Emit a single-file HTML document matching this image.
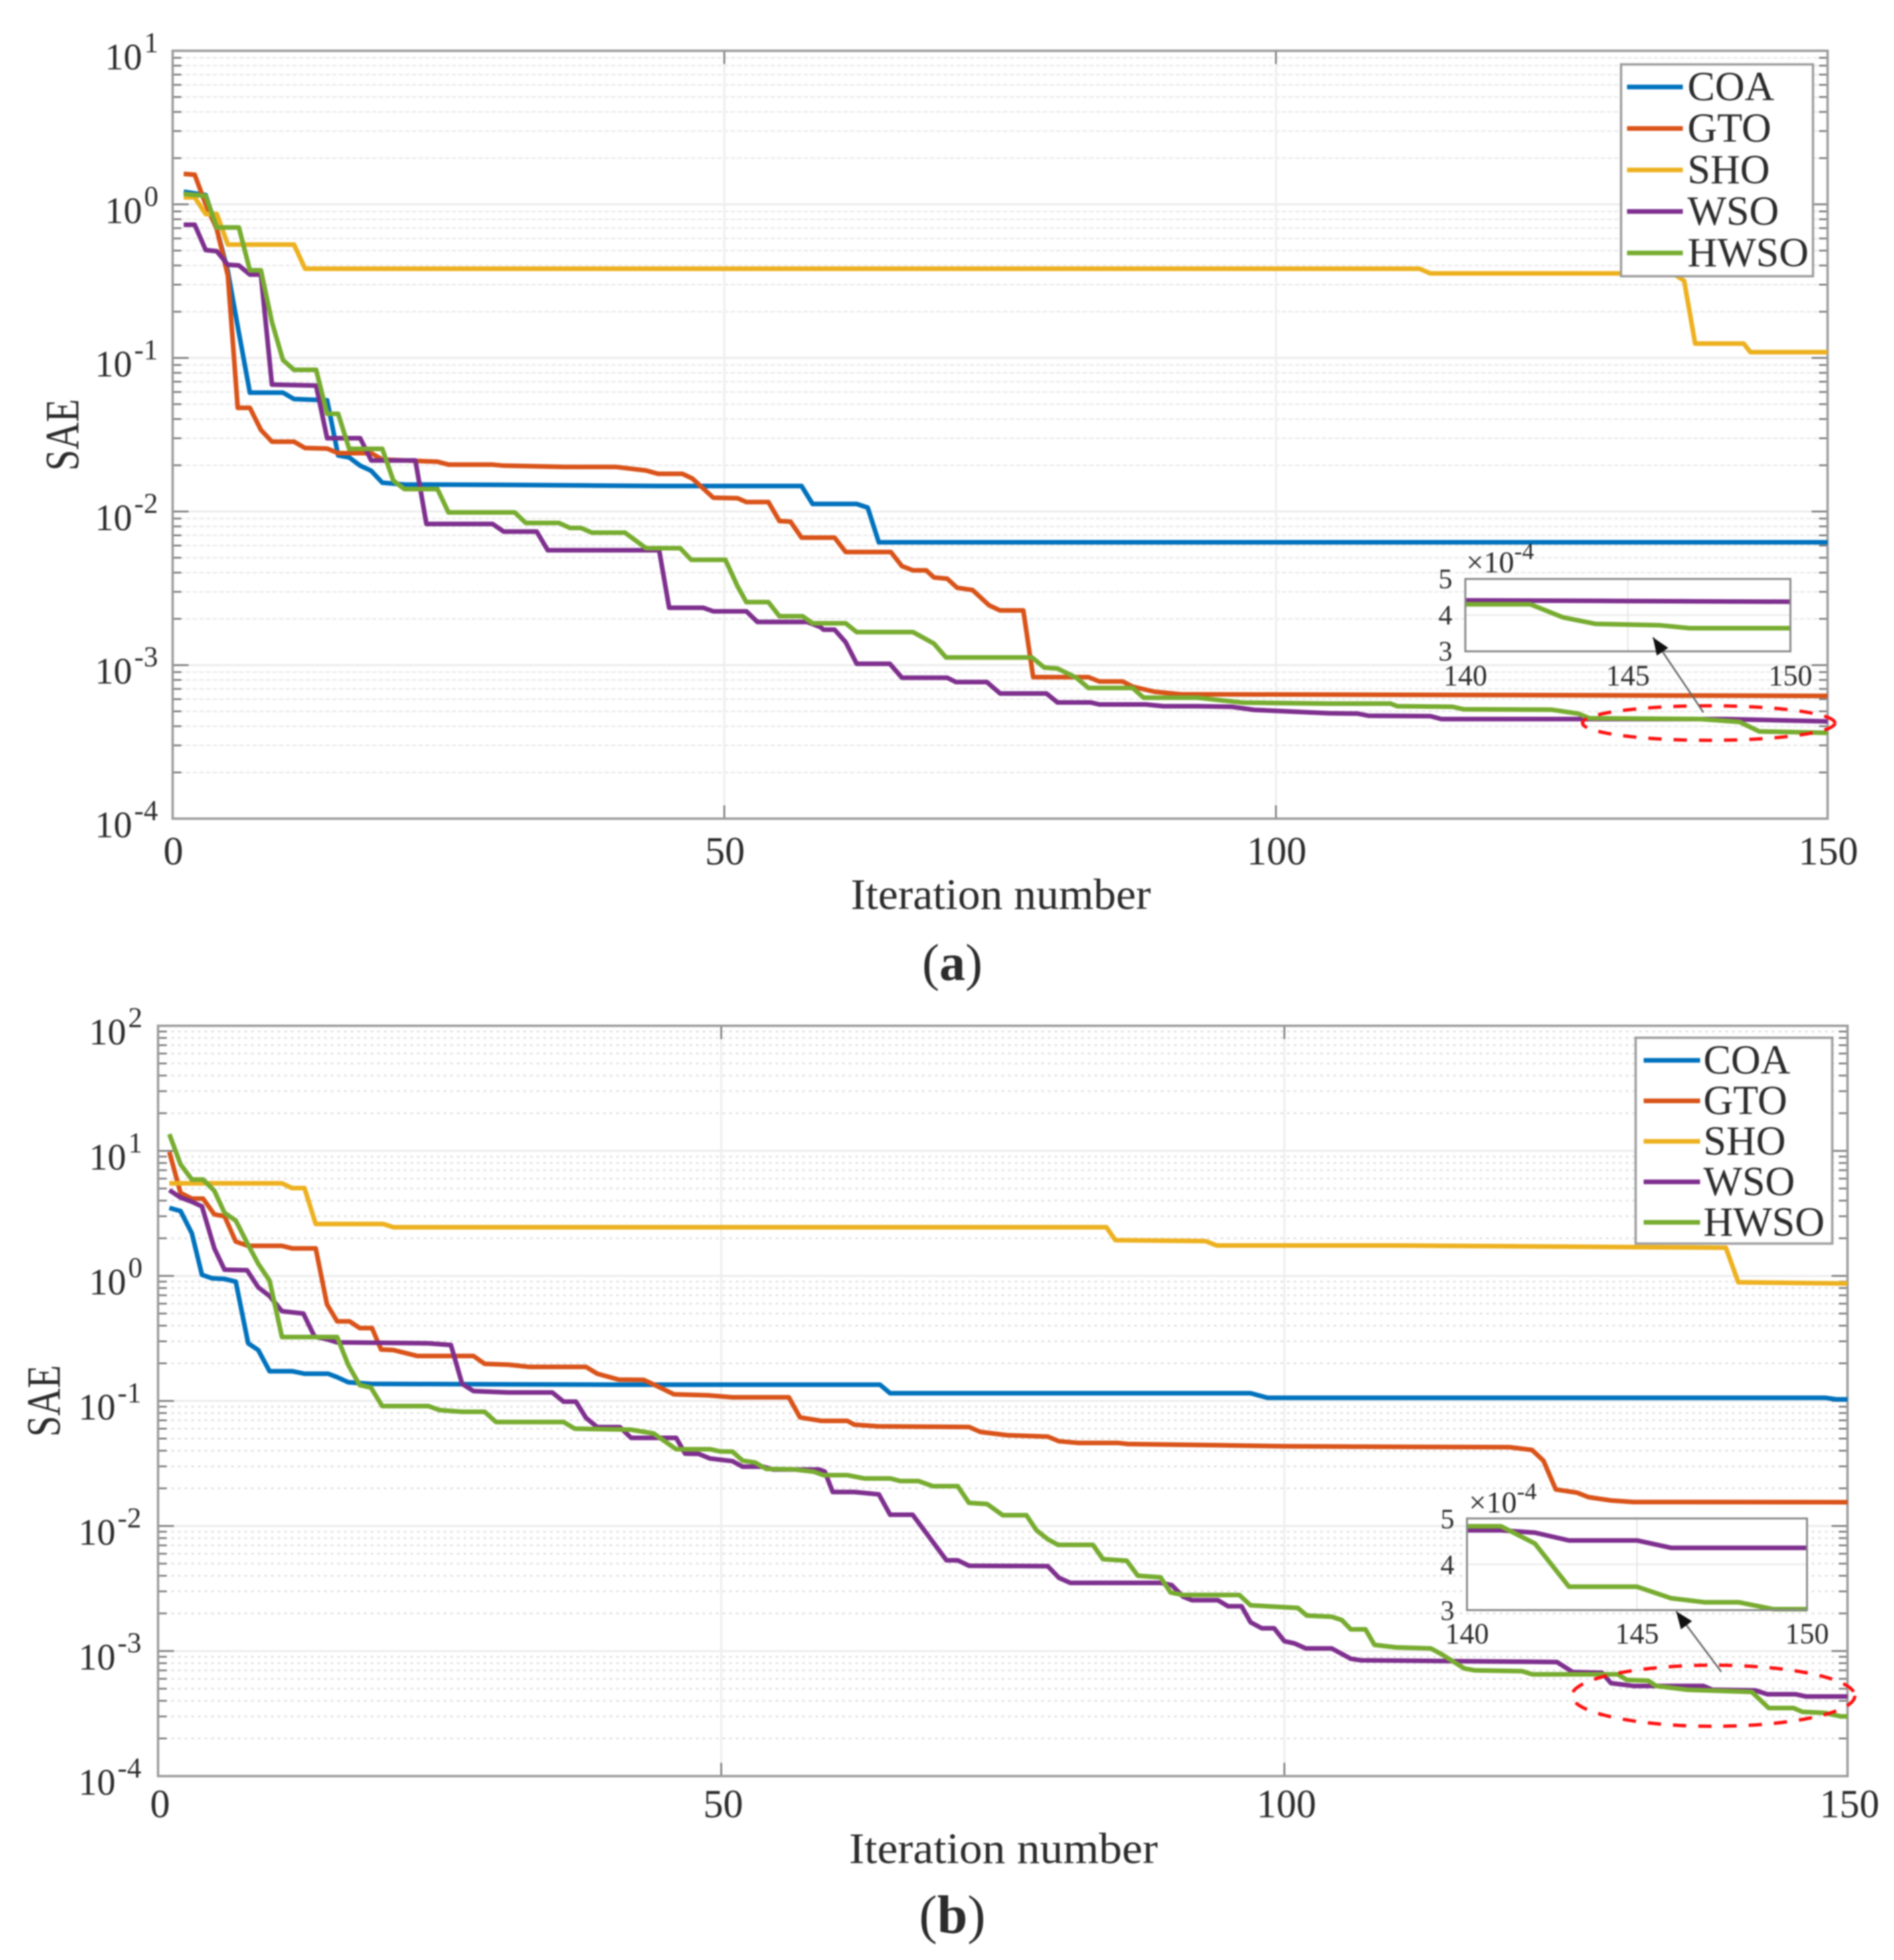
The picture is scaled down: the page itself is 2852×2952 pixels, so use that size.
<!DOCTYPE html>
<html lang="en">
<head>
<meta charset="utf-8">
<title>SAE convergence curves</title>
<style>
html,body{margin:0;padding:0;background:#fff;}
svg{display:block;filter:blur(1.1px);font-family:"Liberation Serif",serif;}
text{fill:#2b2b2b;}
</style>
</head>
<body>
<svg id="fig" xmlns="http://www.w3.org/2000/svg" width="2852" height="2952" viewBox="0 0 2852 2952">
<rect x="0" y="0" width="2852" height="2952" fill="#fff"/>
<text x="1434" y="1476" font-size="78" text-anchor="middle">(<tspan font-weight="bold">a</tspan>)</text>
<text x="1434" y="2911" font-size="82" text-anchor="middle">(<tspan font-weight="bold">b</tspan>)</text>
</svg>
<script>
// Shared axis data
const seriesNames = ['COA','GTO','SHO','WSO','HWSO'];
const seriesColors = ['#0072BD','#D95319','#EDB120','#7E2F8E','#77AC30'];
const xTickValues = [0,50,100,150];
const insetXTicks = [140,145,150];
const insetYTicks = [3,4,5];
const aDecades = [1,0,-1,-2,-3,-4];
const bDecades = [2,1,0,-1,-2,-3,-4];

// Panel (a) series: [iteration, SAE]
const aCOA = [[1,1.21],[3,1.15],[4,0.69],[5,0.367],[5.9,0.16],[7,0.0594],[10,0.0594],[11,0.054],[14,0.053],[15,0.0232],[16,0.0225],[17,0.0199],[18,0.0184],[19,0.0154],[21,0.015],[30,0.0149],[44,0.01465],[57,0.01465],[58,0.0112],[62,0.0112],[63,0.0106],[64,0.0063],[150,0.0063]];
const aGTO = [[1,1.58],[2,1.56],[3,1.0],[4,0.69],[5,0.344],[5.9,0.0473],[7,0.0473],[8,0.034],[9,0.0285],[11,0.0285],[12,0.0259],[14,0.0257],[15,0.024],[18,0.024],[19,0.0218],[24,0.0211],[25,0.0202],[29,0.0202],[30,0.0199],[35.6,0.0195],[40.2,0.0195],[42.9,0.0185],[44,0.0176],[46.2,0.0176],[47.1,0.0164],[49,0.0123],[51.2,0.0122],[52,0.01153],[54,0.01153],[55,0.00867],[56,0.0086],[57,0.00676],[60,0.00676],[61,0.00545],[65.1,0.00545],[66.1,0.00441],[67.1,0.00414],[68.3,0.00414],[69,0.00372],[70.2,0.00365],[71.1,0.00319],[72.5,0.00308],[74,0.00245],[75,0.00227],[77.1,0.00227],[78,0.000834],[83,0.000834],[84,0.000782],[86.1,0.000782],[87,0.000724],[89,0.00067],[91.3,0.000646],[150,0.00063]];
const aSHO = [[1,1.11],[2,1.11],[3,0.865],[4,0.865],[5,0.547],[11,0.547],[12,0.381],[113,0.381],[114,0.355],[136,0.355],[137,0.318],[138,0.124],[142.4,0.124],[143,0.109],[150,0.109]];
const aWSO = [[1,0.737],[2,0.737],[3,0.504],[4,0.495],[5,0.404],[6,0.4],[7,0.349],[8,0.349],[9,0.067],[13,0.066],[14,0.03],[17,0.03],[18,0.0215],[22,0.0215],[23,0.0083],[29,0.0083],[30,0.0074],[33,0.0074],[34,0.00559],[44.1,0.00559],[45,0.00236],[48.1,0.00236],[49,0.00224],[52,0.00224],[53,0.00191],[57.5,0.00191],[58.7,0.00177],[59,0.0017],[60,0.0017],[61,0.00141],[62,0.00102],[65,0.00102],[66.1,0.000828],[70.2,0.000828],[71,0.000775],[73.8,0.000775],[75,0.000653],[79.2,0.000653],[80.2,0.000571],[83.2,0.000571],[84,0.000554],[88.2,0.000554],[89.8,0.00054],[92.8,0.00054],[96,0.000535],[98,0.000511],[104.8,0.000486],[107.4,0.000483],[108.4,0.000468],[114,0.000465],[115,0.000445],[140.8,0.000445],[150,0.00043]];
const aHWSO = [[1,1.17],[3,1.135],[4,0.707],[6,0.707],[7,0.372],[8,0.372],[9,0.171],[10,0.0969],[11,0.0837],[13,0.0837],[14,0.0433],[15,0.0433],[16,0.0256],[19,0.0256],[20,0.0159],[21,0.014],[24,0.014],[25,0.00987],[31,0.00987],[32,0.00843],[35,0.00843],[36,0.00782],[37,0.00782],[38,0.00728],[41,0.00728],[42.9,0.00577],[46,0.00577],[47,0.00485],[50.1,0.00485],[51.2,0.00326],[52,0.00257],[54,0.00257],[55,0.00208],[57.1,0.00208],[58,0.00187],[61,0.00187],[62,0.00164],[67.1,0.00164],[69,0.00138],[70.1,0.00112],[77.9,0.00112],[79,0.000964],[80.2,0.00095],[81.9,0.000828],[83,0.00071],[87,0.00071],[88,0.000614],[92.8,0.000614],[95,0.00059],[97,0.00057],[104.8,0.000561],[110.4,0.000561],[111,0.00054],[116,0.000535],[117,0.000516],[125,0.000512],[127.4,0.000483],[128.4,0.000451],[138.5,0.000445],[142,0.000427],[143.8,0.00037],[150,0.000362]];

// Panel (b) series: [iteration, SAE]
const bCOA = [[1,3.5],[2,3.3],[3,2.19],[3.9,1.02],[4.8,0.957],[5.9,0.945],[6.9,0.9],[8,0.289],[8.9,0.255],[9.9,0.173],[11.9,0.173],[13,0.165],[15.1,0.165],[15.9,0.155],[16.9,0.141],[18.9,0.137],[40,0.135],[64.1,0.135],[65,0.1153],[97,0.1153],[98.5,0.106],[148,0.106],[149,0.103],[150,0.103]];
const bGTO = [[1,9.8],[2,4.6],[3,4.15],[4,4.15],[5,3.1],[5.9,3.0],[6.9,1.88],[8,1.74],[11,1.74],[11.9,1.66],[14,1.66],[15,0.592],[15.9,0.433],[17,0.433],[17.9,0.383],[19,0.383],[19.8,0.258],[20.9,0.255],[23,0.229],[28,0.229],[29,0.198],[31.1,0.195],[33,0.187],[38,0.187],[39,0.165],[40.9,0.148],[43.1,0.1476],[44.2,0.133],[45.8,0.113],[48.8,0.111],[51,0.107],[56,0.107],[57,0.0738],[58.9,0.0693],[61.2,0.0693],[61.8,0.0647],[63.9,0.0626],[72,0.0619],[73,0.0566],[75.4,0.0532],[79,0.0518],[80,0.0476],[81.7,0.0462],[85.2,0.0462],[86.1,0.0452],[94,0.0443],[100,0.0434],[112.7,0.0429],[120,0.0427],[122,0.0405],[123,0.0333],[124.1,0.0196],[126,0.01845],[127,0.017],[129,0.016],[131,0.01555],[150,0.0155]];
const bSHO = [[1,5.5],[11,5.5],[11.9,5.04],[13,5.04],[14,2.6],[20,2.6],[20.9,2.45],[84.2,2.45],[85,1.93],[93,1.9],[94,1.75],[110,1.75],[139.2,1.68],[140.3,0.89],[150,0.87]];
const bWSO = [[1,4.85],[2,4.23],[3,3.92],[3.9,3.6],[5,1.66],[5.9,1.12],[7.9,1.11],[8.9,0.81],[9.9,0.69],[11,0.522],[12.9,0.5],[13.9,0.327],[14.9,0.313],[15.9,0.294],[24,0.289],[26,0.28],[27,0.137],[28,0.12],[31.1,0.117],[35,0.117],[36,0.0988],[37.1,0.0988],[38,0.0731],[39,0.0618],[41,0.0618],[42,0.0507],[46,0.0507],[46.8,0.0379],[48,0.0377],[49,0.0347],[51,0.033],[51.9,0.0298],[53.7,0.0298],[54.6,0.0283],[58.7,0.0283],[59.2,0.0272],[59.9,0.0187],[61.8,0.0187],[64,0.0179],[65,0.0123],[67,0.0123],[70,0.00532],[71,0.00532],[72,0.00481],[79,0.00477],[80,0.00384],[81,0.00351],[89,0.00351],[90,0.00337],[91,0.00272],[91.8,0.00255],[94.1,0.00255],[95,0.00228],[96.2,0.00228],[97,0.0017],[98,0.00152],[99.1,0.00152],[100,0.0012],[100.9,0.00115],[101.9,0.00105],[104.2,0.00105],[105.9,0.000867],[106.8,0.000843],[115,0.00083],[124.2,0.000817],[125.6,0.000679],[128.2,0.00067],[129,0.000554],[131,0.000526],[137.2,0.000526],[138,0.00049],[141.8,0.000485],[142.9,0.000451],[145.4,0.000451],[146.3,0.000433],[150,0.000433]];
const bHWSO = [[1,13.6],[2,7.8],[3,5.9],[4,5.9],[5,4.79],[5.9,3.19],[6.9,2.77],[8,1.77],[8.9,1.25],[9.9,0.916],[11,0.324],[15.9,0.324],[16.9,0.193],[17.9,0.134],[18.9,0.128],[19.9,0.091],[24,0.091],[25,0.0845],[27,0.0818],[29,0.0818],[30,0.0679],[36,0.0679],[37,0.06],[42,0.0589],[44,0.0549],[46,0.0411],[49,0.0411],[49.9,0.0395],[51,0.0393],[51.9,0.0333],[53,0.0322],[54,0.0286],[56.4,0.0284],[58.2,0.0272],[59.1,0.0255],[61.2,0.0255],[62.7,0.024],[65,0.024],[65.9,0.0229],[67.5,0.0229],[68.8,0.0208],[71,0.0208],[72,0.0153],[73.6,0.015],[75,0.0122],[77.1,0.0122],[78,0.00922],[79,0.00783],[79.9,0.00707],[83,0.00707],[83.9,0.00543],[86,0.00528],[87,0.004],[89,0.00389],[89.9,0.00294],[91,0.00281],[96,0.00281],[97,0.00232],[101.2,0.00221],[102,0.00192],[104.2,0.00188],[105.1,0.00177],[105.9,0.00149],[107.2,0.00149],[108,0.00112],[109.9,0.00107],[113,0.00105],[113.9,0.00095],[116,0.000724],[116.9,0.000701],[121.1,0.00069],[122,0.000652],[129.6,0.000652],[130.4,0.000588],[132.3,0.00058],[133,0.000526],[135.8,0.00049],[141.5,0.000471],[143,0.00035],[145.2,0.00035],[146,0.000326],[148,0.00032],[149.4,0.0003],[150,0.0003]];

// Inset series: [iteration, value x 1e-4]
const aInsetWSO = [[140,4.41],[145,4.39],[150,4.37]];
const aInsetHWSO = [[140,4.3],[142,4.3],[143,3.94],[144,3.76],[146,3.72],[146.9,3.64],[150,3.64]];
const bInsetWSO = [[140,4.74],[141,4.74],[142,4.69],[143,4.52],[145,4.52],[146,4.36],[150,4.36]];
const bInsetHWSO = [[140,4.83],[141,4.83],[142,4.45],[143,3.51],[145,3.51],[146,3.26],[147,3.17],[148,3.17],[149,3.02],[150,3.02]];

const NS = 'http://www.w3.org/2000/svg';
const fig = document.getElementById('fig');

function mk(parent, tag, attrs, txt){
  const e = document.createElementNS(NS, tag);
  for (const k in attrs) e.setAttribute(k, attrs[k]);
  if (txt !== undefined) e.textContent = txt;
  parent.appendChild(e);
  return e;
}
function linePath(pts, fx, fy){
  return pts.map((p,i)=>(i?'L':'M')+fx(p[0]).toFixed(1)+' '+fy(p[1]).toFixed(1)).join(' ');
}

function drawPanel(id, g, decades, series, inset){
  const root = mk(fig,'g',{});
  
  
  const xs = v => g.l + (v/150)*(g.r-g.l);
  const top = decades[0], bot = decades[decades.length-1];
  const ys = v => g.t + (top-Math.log10(v))/(top-bot)*(g.b-g.t);

  // grid
  for (let i=0;i<decades.length;i++){
    const d = decades[i];
    if (i<decades.length-1){
      for (let m=2;m<=9;m++){
        const y = ys(m*Math.pow(10,d-1));
        const gl = mk(root,'line',{x1:g.l,x2:g.r,y1:y,y2:y,stroke:g.gridColor,'stroke-width':2.5,'stroke-dasharray':g.gridDash});
        
        
        const t1 = mk(root,'line',{x1:g.l,x2:g.l+13,y1:y,y2:y,stroke:'#777','stroke-width':2.5});
        
        
        const t2 = mk(root,'line',{x1:g.r-13,x2:g.r,y1:y,y2:y,stroke:'#777','stroke-width':2.5});
        
        
      }
    }
    const y = ys(Math.pow(10,d));
    if (i>0 && i<decades.length-1){
      const gl = mk(root,'line',{x1:g.l,x2:g.r,y1:y,y2:y,stroke:'#ececec','stroke-width':3});
      
      
    }
    const t1 = mk(root,'line',{x1:g.l,x2:g.l+24,y1:y,y2:y,stroke:'#777','stroke-width':2.5});
    
    
    const t2 = mk(root,'line',{x1:g.r-24,x2:g.r,y1:y,y2:y,stroke:'#777','stroke-width':2.5});
    
    

    const lab = mk(root,'text',{x:d<0?g.negX:g.posX,y:y+28,'font-size':56});
    
    
    mk(lab,'tspan',{},'10');
    mk(lab,'tspan',{dy:-26,dx:3,'font-size':43},String(d));
  }
  xTickValues.forEach(v=>{
    const x = xs(v);
    if (v>0 && v<150){
      const gl = mk(root,'line',{x1:x,x2:x,y1:g.t,y2:g.b,stroke:'#eeeeee','stroke-width':3});
      
      
      const tb = mk(root,'line',{x1:x,x2:x,y1:g.b-20,y2:g.b,stroke:'#777','stroke-width':2.5});
      
      
      const tt = mk(root,'line',{x1:x,x2:x,y1:g.t,y2:g.t+20,stroke:'#777','stroke-width':2.5});
      
      
    }
    const lab = mk(root,'text',{x:x+g.xLabelDx,y:g.xLabelY,'font-size':60,'text-anchor':'middle'},String(v));
    
    
  });

  // axes frame
  const frame = mk(root,'rect',{x:g.l,y:g.t,width:g.r-g.l,height:g.b-g.t,fill:'none',stroke:'#9a9a9a','stroke-width':3.5});
  
  

  // titles
  const xt = mk(root,'text',{x:g.xTitleX,y:g.xTitleY,'font-size':66,'text-anchor':'middle',textLength:g.xTitleLen,lengthAdjust:'spacingAndGlyphs'},'Iteration number');
  
  
  const yt = mk(root,'text',{x:0,y:0,'font-size':72,'text-anchor':'middle',textLength:g.yTitleLen,lengthAdjust:'spacingAndGlyphs',transform:'translate('+g.yTitleX+' '+g.yTitleY+') rotate(-90)'},'SAE');
  
  

  // series
  series.forEach((pts,i)=>{
    const p = mk(root,'path',{d:linePath(pts,xs,ys),fill:'none',stroke:seriesColors[i],'stroke-width':g.lw,'stroke-linejoin':'round','stroke-linecap':'butt'});
    
    
  });

  // ellipse highlight
  const el = mk(root,'ellipse',{cx:g.ell[0],cy:g.ell[1],rx:g.ell[2],ry:g.ell[3],fill:'none',stroke:'#ff1010','stroke-width':5,'stroke-dasharray':'20 18'});
  
  

  // inset
  const n = inset.box;
  const ix = v => n.l + (v-140)/10*(n.r-n.l);
  const iy = v => n.t + (5-v)/2*(n.b-n.t);
  const ig = mk(root,'g',{});
  
  
  const bg = mk(ig,'rect',{x:n.l,y:n.t,width:n.r-n.l,height:n.b-n.t,fill:'#fff'});
  
  
  const hg = mk(ig,'line',{x1:n.l,x2:n.r,y1:iy(4),y2:iy(4),stroke:'#ececec','stroke-width':2.5});
  
  
  const vg = mk(ig,'line',{x1:ix(145),x2:ix(145),y1:n.t,y2:n.b,stroke:'#e6e6e6','stroke-width':2});
  
  
  inset.series.forEach((pts,i)=>{
    const p = mk(ig,'path',{d:linePath(pts,ix,iy),fill:'none',stroke:inset.colors[i],'stroke-width':g.lw,'stroke-linejoin':'round'});
    
    
  });
  const ifr = mk(ig,'rect',{x:n.l,y:n.t,width:n.r-n.l,height:n.b-n.t,fill:'none',stroke:'#8a8a8a','stroke-width':3});
  
  
  insetXTicks.forEach(v=>{
    const t = mk(ig,'text',{x:ix(v),y:inset.xLabY,'font-size':44,'text-anchor':'middle'},String(v));
    
    
  });
  insetYTicks.forEach(v=>{
    const t = mk(ig,'text',{x:inset.yLabX,y:iy(v)+inset.yLabDy,'font-size':42,'text-anchor':'end'},String(v));
    
    
  });
  const ex = mk(ig,'text',{x:inset.expX,y:inset.expY,'font-size':46});
  
  
  mk(ex,'tspan',{},'\u00d710');
  mk(ex,'tspan',{dy:-20,'font-size':36},'-4');

  // arrow
  const a = inset.arrow;
  const ar = mk(root,'line',{x1:a[0],y1:a[1],x2:a[2],y2:a[3],stroke:'#666','stroke-width':2.5});
  
  
  const ang = Math.atan2(a[1]-a[3],a[0]-a[2]);
  const hl = 28, hw = 0.38;
  const hd = 'M'+a[2]+' '+a[3]+' L'+(a[2]+hl*Math.cos(ang-hw)).toFixed(1)+' '+(a[3]+hl*Math.sin(ang-hw)).toFixed(1)+' L'+(a[2]+hl*Math.cos(ang+hw)).toFixed(1)+' '+(a[3]+hl*Math.sin(ang+hw)).toFixed(1)+' Z';
  const ah = mk(root,'path',{d:hd,fill:'#111'});
  
  

  // legend
  const L = g.leg;
  const lg = mk(root,'g',{});
  
  
  const lb = mk(lg,'rect',{x:L.x,y:L.y,width:L.w,height:L.h,fill:'#fff',stroke:'#9c9c9c','stroke-width':3.5});
  
  
  seriesNames.forEach((nm,i)=>{
    const ly = L.y0 + i*L.dy;
    const sw = mk(lg,'line',{x1:L.lx1,x2:L.lx2,y1:ly,y2:ly,stroke:seriesColors[i],'stroke-width':g.lw});
    
    
    const tx = mk(lg,'text',{x:L.tx,y:ly+20,'font-size':62},nm);
    
    
  });
}

drawPanel('a',
 {l:260,r:2752,t:76.5,b:1233,lw:7,posX:158,negX:143,xLabelY:1302,xLabelDx:1,xTitleX:1507,xTitleY:1369,xTitleLen:452,yTitleX:118,yTitleY:655,yTitleLen:108,
  gridColor:'#ececec',gridDash:'7 3',
  ell:[2573,1089,190,26],
  leg:{x:2441,y:97,w:289,h:319,y0:131,dy:62.5,lx1:2450,lx2:2534,tx:2541}},
 aDecades,[aCOA,aGTO,aSHO,aWSO,aHWSO],
 {box:{l:2206.5,r:2696,t:872,b:981},series:[aInsetWSO,aInsetHWSO],colors:['#7E2F8E','#77AC30'],names:['wso','hwso'],
  xLabY:1032,yLabX:2187,yLabDy:14,expX:2208,expY:862,arrow:[2565,1073,2489,960]});

drawPanel('b',
 {l:238,r:2782,t:1545,b:2675,lw:7,posX:134,negX:118,xLabelY:2737,xLabelDx:3,xTitleX:1511,xTitleY:2806,xTitleLen:465,yTitleX:90,yTitleY:2110,yTitleLen:108,
  gridColor:'#e0e0e0',gridDash:'4 6',
  ell:[2580,2554,213,46],
  leg:{x:2463,y:1563,w:296,h:310,y0:1597,dy:61,lx1:2475,lx2:2560,tx:2565}},
 bDecades,[bCOA,bGTO,bSHO,bWSO,bHWSO],
 {box:{l:2209,r:2721,t:2287,b:2425},series:[bInsetWSO,bInsetHWSO],colors:['#7E2F8E','#77AC30'],names:['wso','hwso'],
  xLabY:2475,yLabX:2190,yLabDy:15,expX:2212,expY:2278,arrow:[2592,2518,2524,2427]});
</script>
</body>
</html>
